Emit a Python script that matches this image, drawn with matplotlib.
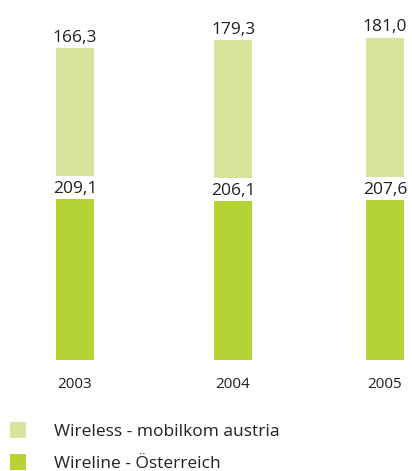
import matplotlib.pyplot as plt
import numpy as np

years = ['2003', '2004', '2005']
wireline = [209.1, 206.1, 207.6]
wireless = [166.3, 179.3, 181.0]
gap = 30

c_light = '#d7e49b'
c_dark = '#b5d335'
c_text = '#231f20'

plt.rcParams['font.family'] = ['Open Sans', 'DejaVu Sans']

fig = plt.figure(figsize=(4.12, 4.71), dpi=100)
ax = fig.add_axes([0, 111 / 471, 1, 360 / 471])

x = np.array([0, 1.02, 2])
w = 0.245
b1 = ax.bar(x, wireline, width=w, color=c_dark, label='Wireline - Österreich')
bottoms = np.array(wireline) + gap
b2 = ax.bar(x, wireless, width=w, bottom=bottoms, color=c_light,
            label='Wireless - mobilkom austria')

fmt = lambda v: f'{v:.1f}'.replace('.', ',')
for xi, v in zip(x, wireline):
    ax.text(xi, v + 3, fmt(v), ha='center', va='bottom', fontsize=12.5, color=c_text)
for xi, b, v in zip(x, bottoms, wireless):
    ax.text(xi, b + v + 3, fmt(v), ha='center', va='bottom', fontsize=12.5, color=c_text)

ax.set_xlim(-75 / 155, 337 / 155)
ax.set_ylim(0, 360 / 0.77)
ax.set_xticks(x)
ax.set_xticklabels(years, fontsize=11, color=c_text)
ax.tick_params(axis='x', length=0, pad=12)
ax.set_yticks([])
for s in ax.spines.values():
    s.set_visible(False)

fig.legend(handles=[b2, b1], loc='upper left', bbox_to_anchor=(10 / 412, 49 / 471),
           frameon=False, fontsize=12.5, handlelength=0.9, handleheight=1.0,
           handletextpad=1.65, labelspacing=0.85, borderaxespad=0, borderpad=0,
           labelcolor=c_text)

fig.savefig('out.png', dpi=100)
